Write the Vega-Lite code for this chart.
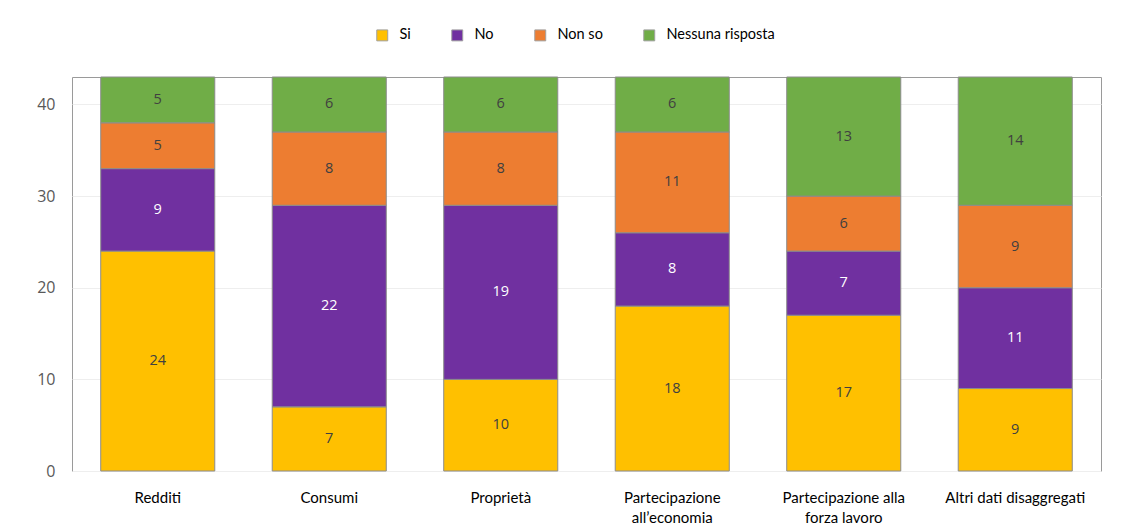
{
  "$schema": "https://vega.github.io/schema/vega-lite/v6.json",
  "width": 1029,
  "height": 394,
  "autosize": {"type": "none"},
  "padding": {"left": 72, "top": 77, "right": 22, "bottom": 61},
  "background": "white",
  "config": {
    "view": {"stroke": "#9a9a9a", "strokeWidth": 1},
    "font": "Open Sans"
  },
  "data": {
    "values": [
      {"cat": "Redditi", "serie": "Si", "value": 24},
      {"cat": "Redditi", "serie": "No", "value": 9},
      {"cat": "Redditi", "serie": "Non so", "value": 5},
      {"cat": "Redditi", "serie": "Nessuna risposta", "value": 5},
      {"cat": "Consumi", "serie": "Si", "value": 7},
      {"cat": "Consumi", "serie": "No", "value": 22},
      {"cat": "Consumi", "serie": "Non so", "value": 8},
      {"cat": "Consumi", "serie": "Nessuna risposta", "value": 6},
      {"cat": "Proprietà", "serie": "Si", "value": 10},
      {"cat": "Proprietà", "serie": "No", "value": 19},
      {"cat": "Proprietà", "serie": "Non so", "value": 8},
      {"cat": "Proprietà", "serie": "Nessuna risposta", "value": 6},
      {"cat": "Partecipazione all’economia", "serie": "Si", "value": 18},
      {"cat": "Partecipazione all’economia", "serie": "No", "value": 8},
      {"cat": "Partecipazione all’economia", "serie": "Non so", "value": 11},
      {"cat": "Partecipazione all’economia", "serie": "Nessuna risposta", "value": 6},
      {"cat": "Partecipazione alla forza lavoro", "serie": "Si", "value": 17},
      {"cat": "Partecipazione alla forza lavoro", "serie": "No", "value": 7},
      {"cat": "Partecipazione alla forza lavoro", "serie": "Non so", "value": 6},
      {"cat": "Partecipazione alla forza lavoro", "serie": "Nessuna risposta", "value": 13},
      {"cat": "Altri dati disaggregati", "serie": "Si", "value": 9},
      {"cat": "Altri dati disaggregati", "serie": "No", "value": 11},
      {"cat": "Altri dati disaggregati", "serie": "Non so", "value": 9},
      {"cat": "Altri dati disaggregati", "serie": "Nessuna risposta", "value": 14}
    ]
  },
  "transform": [
    {"calculate": "indexof(['Si','No','Non so','Nessuna risposta'], datum.serie)", "as": "ord"},
    {"stack": "value", "groupby": ["cat"], "sort": [{"field": "ord", "order": "ascending"}], "as": ["v0", "v1"]},
    {"calculate": "(datum.v0 + datum.v1) / 2", "as": "vm"}
  ],
  "encoding": {
    "x": {
      "field": "cat",
      "type": "nominal",
      "sort": null,
      "scale": {"paddingInner": 0.335, "paddingOuter": 0.1675},
      "axis": {
        "title": null,
        "labelAngle": 0,
        "ticks": false,
        "domain": false,
        "labelPadding": 19,
        "labelFont": "Lato",
        "labelFontSize": 15,
        "labelColor": "#000000",
        "labelBaseline": "top",
        "labelLineHeight": 20,
        "labelExpr": "datum.label == 'Partecipazione all’economia' ? ['Partecipazione', 'all’economia'] : datum.label == 'Partecipazione alla forza lavoro' ? ['Partecipazione alla', 'forza lavoro'] : datum.label"
      }
    }
  },
  "layer": [
    {
      "mark": {"type": "bar", "stroke": "#8c8c8c", "strokeWidth": 1},
      "encoding": {
        "y": {
          "field": "v0",
          "type": "quantitative",
          "scale": {"domain": [0, 43], "nice": false},
          "axis": {
            "title": null,
            "values": [0, 10, 20, 30, 40],
            "ticks": false,
            "domain": false,
            "labelPadding": 17,
            "labelFont": "Open Sans",
            "labelFontSize": 16,
            "labelColor": "#595959",
            "gridColor": "#eeeeee",
            "gridWidth": 1
          }
        },
        "y2": {"field": "v1"},
        "color": {
          "field": "serie",
          "type": "nominal",
          "scale": {
            "domain": ["Si", "No", "Non so", "Nessuna risposta"],
            "range": ["#ffc000", "#7030a0", "#ed7d31", "#70ad47"]
          },
          "legend": {
            "title": null,
            "orient": "none",
            "direction": "horizontal",
            "legendX": 303,
            "legendY": -49,
            "symbolType": "square",
            "symbolSize": 120,
            "symbolStrokeColor": "#a0a0a0",
            "symbolStrokeWidth": 1,
            "labelFont": "Lato",
            "labelFontSize": 14.5,
            "labelColor": "#000000",
            "labelOffset": 10,
            "columnPadding": 38
          }
        }
      }
    },
    {
      "mark": {"type": "text", "font": "Open Sans", "fontSize": 14.5, "baseline": "middle", "align": "center"},
      "encoding": {
        "y": {"field": "vm", "type": "quantitative"},
        "text": {"field": "value", "type": "quantitative"},
        "color": {
          "condition": {"test": "datum.serie == 'No'", "value": "#ffffff"},
          "value": "#404040"
        }
      }
    }
  ]
}
